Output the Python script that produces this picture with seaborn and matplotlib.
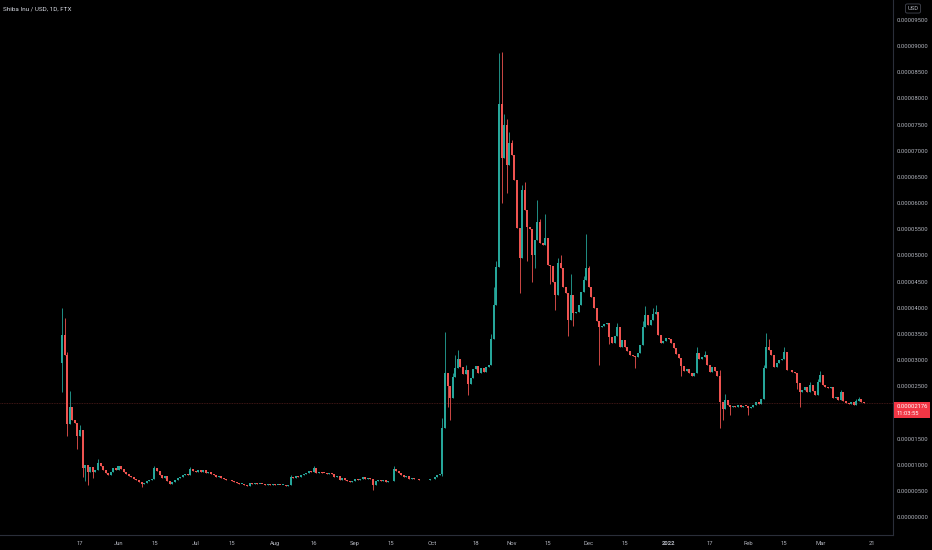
import numpy as np
import pandas as pd
import matplotlib
matplotlib.use("Agg")
import matplotlib.pyplot as plt
import matplotlib.dates as mdates
import seaborn as sns

# SHIB/USD daily candles, prices in millionths of a dollar (x 1e-6)
start_date = "2021-05-10"
first_open_e6 = 29.4
close_e6 = [
    34.8, 31.0, 17.8, 21.0, 18.5, 18.0, 15.5, 16.6, 9.4, 10.0,
    8.6, 9.5, 8.6, 8.9, 10.4, 9.8, 9.0, 8.4, 8.0, 8.6,
    9.4, 9.0, 9.8, 9.2, 8.6, 8.3, 7.9, 7.6, 7.2, 7.0,
    6.6, 6.3, 6.5, 6.9, 7.0, 7.3, 9.4, 8.7, 8.0, 7.5,
    7.9, 6.8, 6.4, 6.6, 7.0, 7.4, 7.7, 8.0, 8.3, 8.1,
    9.2, 8.7, 8.6, 8.9, 8.6, 9.0, 8.5, 8.6, 8.2, 8.0,
    7.7, 7.8, 7.4, 7.2, 7.0, 7.1, 6.8, 6.6, 6.5, 6.3,
    6.4, 6.1, 5.9, 6.5, 6.4, 6.5, 6.3, 6.4, 6.3, 6.2,
    6.3, 6.2, 6.3, 6.1, 6.2, 6.1, 6.2, 6.0, 6.2, 7.6,
    7.4, 7.8, 7.6, 8.0, 8.2, 8.4, 8.8, 8.6, 9.3, 8.4,
    8.6, 8.5, 8.4, 8.3, 8.5, 8.2, 7.6, 7.9, 7.1, 7.4,
    7.0, 6.9, 6.6, 6.9, 7.2, 7.0, 7.3, 7.6, 7.2, 7.5,
    7.3, 6.2, 6.9, 7.0, 6.8, 7.1, 6.7, 6.8, 6.9, 9.1,
    8.7, 8.4, 8.0, 7.6, 7.8, 7.2, 7.4, 7.3, 7.2, 7.0,
    7.1, 7.0, 7.1, 7.3, 7.2, 7.6, 8.0, 8.3, 17.0, 27.5,
    25.0, 22.8, 26.8, 28.5, 30.2, 28.6, 27.4, 28.0, 25.4, 26.6,
    28.2, 28.8, 27.6, 28.4, 27.8, 28.6, 29.0, 34.0, 40.5, 47.8,
    79.0, 68.6, 75.0, 67.3, 71.5, 69.2, 64.4, 55.2, 49.5, 62.5,
    58.7, 55.4, 55.0, 50.0, 53.0, 56.4, 52.4, 52.0, 53.3, 48.2,
    48.0, 45.0, 42.4, 48.5, 47.6, 44.0, 42.8, 37.6, 42.4, 39.0,
    39.2, 40.5, 43.0, 45.3, 47.6, 44.0, 42.0, 40.0, 37.5, 36.3,
    36.5, 36.9, 37.0, 34.4, 33.3, 34.5, 36.3, 32.5, 33.8, 32.5,
    31.8, 31.0, 30.8, 30.5, 31.4, 32.9, 36.3, 38.6, 36.7, 37.6,
    38.8, 39.2, 34.8, 33.3, 33.6, 34.2, 34.0, 33.3, 32.3, 31.2,
    30.4, 28.9, 27.9, 28.2, 27.5, 27.0, 27.5, 31.3, 30.2, 30.6,
    31.0, 29.0, 27.7, 28.6, 27.9, 27.0, 22.0, 20.6, 22.4, 21.4,
    21.0, 21.3, 21.1, 21.4, 21.0, 21.3, 21.2, 20.8, 21.1, 21.5,
    22.0, 21.6, 22.6, 28.5, 32.5, 32.0, 31.0, 28.7, 29.5, 30.0,
    30.2, 31.5, 28.1, 28.0, 27.8, 27.5, 25.6, 23.9, 24.3, 24.8,
    23.9, 25.2, 24.0, 23.3, 25.8, 27.1, 25.2, 24.9, 24.6, 24.8,
    22.7, 22.9, 22.4, 23.9, 22.2, 21.8, 21.6, 21.9, 21.4, 22.2,
    22.5, 22.0, 21.76,
]
# visible wick tips (day index -> price in millionths)
high_e6 = {
    0: 39.9, 1: 38.0, 2: 31.5, 3: 24.0, 7: 17.5, 14: 11.0, 36: 9.8, 50: 9.6,
    89: 8.0, 98: 9.8, 129: 9.8, 148: 19.0, 149: 35.3, 152: 27.5, 153: 31.0,
    154: 32.0, 157: 29.0, 167: 35.0, 168: 44.0, 169: 49.0, 170: 88.7,
    171: 88.9, 172: 77.0, 173: 76.0, 174: 73.5, 175: 72.0, 179: 63.5,
    180: 64.0, 185: 60.5, 186: 57.0, 188: 58.0, 193: 49.5, 194: 50.0,
    198: 46.5, 203: 46.0, 204: 54.0, 205: 48.0, 209: 37.5, 216: 37.0,
    226: 37.5, 227: 40.3, 230: 40.0, 231: 40.5, 247: 32.4, 250: 31.8,
    256: 28.0, 258: 23.6, 273: 29.0, 274: 35.2, 275: 34.0, 281: 32.4,
    291: 25.8, 294: 26.3, 295: 27.9, 303: 24.3, 309: 22.6, 310: 23.0,
}
low_e6 = {
    0: 23.9, 2: 15.5, 6: 13.0, 8: 7.6, 9: 6.8, 10: 6.1, 12: 7.4, 31: 5.8,
    121: 5.2, 148: 7.9, 150: 21.0, 151: 18.5, 158: 23.3, 171: 60.0,
    173: 62.0, 178: 42.8, 181: 49.0, 183: 45.0, 184: 47.5, 190: 44.5,
    192: 39.5, 197: 34.5, 199: 36.5, 209: 29.0, 213: 33.0, 223: 28.5,
    241: 27.0, 256: 17.0, 257: 18.5, 260: 19.5, 267: 19.5, 286: 24.5,
    287: 21.0,
}
last_price = 0.00002176
countdown = "11:03:55"
# 20 is hidden under the last-price tag in the reference
price_ticks_e6 = [0, 5, 10, 15, 25, 30, 35, 40, 45, 50, 55, 60, 65, 70, 75, 80, 85, 90, 95]
date_ticks = ["2021-05-17", "2021-06-01", "2021-06-15", "2021-07-01", "2021-07-15",
              "2021-08-01", "2021-08-16", "2021-09-01", "2021-09-15", "2021-10-01",
              "2021-10-18", "2021-11-01", "2021-11-15", "2021-12-01", "2021-12-15",
              "2022-01-01", "2022-01-17", "2022-02-01", "2022-02-15", "2022-03-01",
              "2022-03-21"]
date_labels = ["17", "Jun", "15", "Jul", "15", "Aug", "16", "Sep", "15", "Oct",
               "18", "Nov", "15", "Dec", "15", "2022", "17", "Feb", "15", "Mar", "21"]

# build OHLC frame
dates = pd.date_range(start_date, periods=len(close_e6), freq="D")
closes = np.array(close_e6) * 1e-6
opens = np.concatenate([[first_open_e6 * 1e-6], closes[:-1]])
highs = np.maximum(opens, closes)
lows = np.minimum(opens, closes)
for k, v in high_e6.items():
    highs[k] = max(highs[k], v * 1e-6)
for k, v in low_e6.items():
    lows[k] = min(lows[k], v * 1e-6)
df = pd.DataFrame({"date": dates, "open": opens, "high": highs, "low": lows, "close": closes})
df["up"] = df["close"] >= df["open"]

UP, DOWN = "#26a69a", "#ef5350"
TXT = "#b2b5be"
SEP = "#2a2e39"

sns.set_theme(style="dark", rc={"axes.facecolor": "black", "figure.facecolor": "black",
                                "savefig.facecolor": "black", "axes.grid": False})
plt.rcParams["font.family"] = ["Roboto", "DejaVu Sans"]

fig = plt.figure(figsize=(9.32, 5.5), dpi=100)
ax = fig.add_axes([0, 15 / 550, 893 / 932, 535 / 550])

x = mdates.date2num(df["date"])
cols = np.where(df["up"], UP, DOWN)
body_lo = np.minimum(df["open"], df["close"])
body_h = np.maximum(np.abs(df["close"] - df["open"]), 0.15e-6)
ax.vlines(x, df["low"], df["high"], colors=cols, linewidth=0.6)
ax.bar(x, body_h, bottom=body_lo, width=0.78, color=cols, linewidth=0)

# last price line and label
ax.axhline(last_price, color=DOWN, alpha=0.35, linewidth=0.6, linestyle=(0, (1, 1)))
ax.annotate(f"{last_price:.8f}\n{countdown}", xy=(1.0, last_price),
            xycoords=("axes fraction", "data"), xytext=(2.5, -5.0), textcoords="offset points",
            ha="left", va="center", fontsize=4.2, color="white", linespacing=1.35,
            annotation_clip=False,
            bbox=dict(boxstyle="square,pad=0.45", fc="#f23645", ec="none"))

x0 = x[0]
ax.set_xlim(x0 - 24.1, x0 + 323.3)
ax.set_ylim(-3.44e-6, 98.81e-6)

ax.yaxis.tick_right()
ax.set_yticks([v * 1e-6 for v in price_ticks_e6])
ax.set_yticklabels([f"{v * 1e-6:.8f}" for v in price_ticks_e6])
ax.set_xticks(mdates.date2num(pd.to_datetime(date_ticks)))
ax.set_xticklabels(date_labels)
for lbl in ax.get_xticklabels():
    if lbl.get_text() == "2022":
        lbl.set_fontweight("bold")
ax.tick_params(axis="both", length=0, labelsize=4.2, colors=TXT)
ax.tick_params(axis="y", pad=2.5)
ax.tick_params(axis="x", pad=4)
ax.set_xlabel("")
ax.set_ylabel("")

sns.despine(ax=ax, left=True, top=True, right=False, bottom=False)
for side in ("right", "bottom"):
    ax.spines[side].set_color(SEP)
    ax.spines[side].set_linewidth(0.8)

fig.text(3 / 932, 1 - 9 / 550, "Shiba Inu / USD, 1D, FTX", fontsize=4.6,
         color="#d1d4dc", ha="left", va="center")
fig.text(913 / 932, 1 - 8.5 / 550, "USD", fontsize=4.2, color=TXT, ha="center", va="center",
         bbox=dict(boxstyle="round,pad=0.35,rounding_size=0.3", fc="black", ec="#434651", lw=0.6))

fig.savefig("out.png", dpi=100, facecolor="black")
